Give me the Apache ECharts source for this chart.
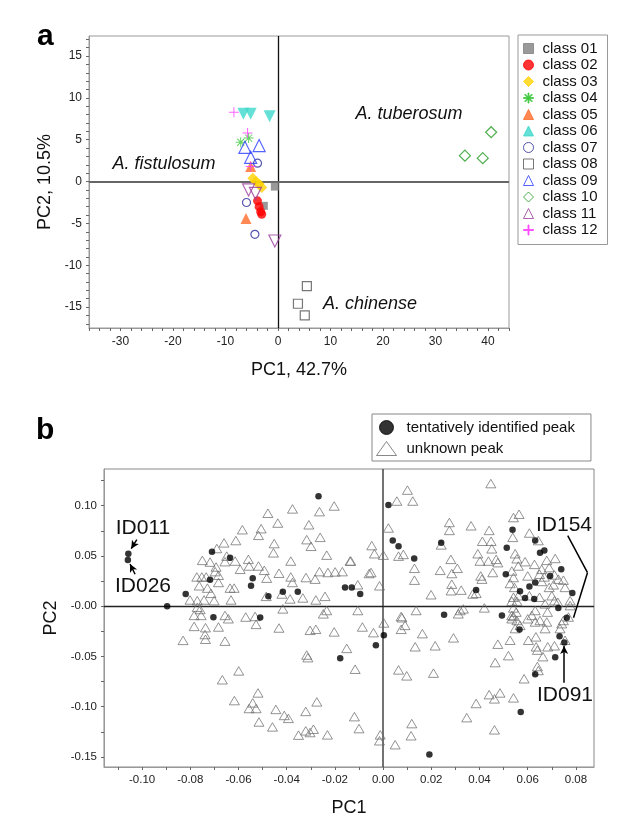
<!DOCTYPE html>
<html><head><meta charset="utf-8">
<script src="https://cdn.jsdelivr.net/npm/echarts@6/dist/echarts.min.js"></script>
<style>html,body{margin:0;padding:0;background:#fff}#c{width:620px;height:818px}</style>
</head><body><div id="c"></div>
<script>
// ---------- Panel a data (PC1, PC2) ----------
const classNames = ['class 01','class 02','class 03','class 04','class 05','class 06','class 07','class 08','class 09','class 10','class 11','class 12'];
const class01 = [[-0.6,-0.6],[-2.7,-2.9]];
const class02 = [[-3.9,-2.3],[-3.6,-3.0],[-3.3,-3.6],[-3.1,-3.9]];
const class03 = [[-4.8,0.4],[-4.2,0.0],[-3.6,-0.3],[-3.1,-0.7]];
const class04 = [[-7.1,4.7],[-5.6,5.2]];
const class05 = [[-5.2,1.8],[-6.1,-4.4]];
const class06 = [[-6.6,8.1],[-5.2,8.1],[-1.6,7.8]];
const class07 = [[-3.9,2.2],[-6.0,-2.5],[-4.4,-6.3]];
const class08 = [[5.5,-12.5],[3.8,-14.6],[5.1,-16.0]];
const class09 = [[-6.3,4.1],[-3.6,4.3],[-5.2,2.9]];
const class10 = [[40.6,5.9],[35.6,3.1],[39.0,2.8]];
const class11 = [[-5.6,-1.0],[-4.3,-1.4],[-0.6,-7.1]];
const class12 = [[-8.4,8.3],[-5.8,5.8],[-5.2,1.8]];
const aTicksX = [-36,-34,-32,-30,-28,-26,-24,-22,-20,-18,-16,-14,-12,-10,-8,-6,-4,-2,0,2,4,6,8,10,12,14,16,18,20,22,24,26,28,30,32,34,36,38,40,42,44];
const aLabelsX = [-30,-20,-10,0,10,20,30,40];
const aTicksY = [-17,-16,-15,-14,-13,-12,-11,-10,-9,-8,-7,-6,-5,-4,-3,-2,-1,0,1,2,3,4,5,6,7,8,9,10,11,12,13,14,15,16,17];
const aLabelsY = [-15,-10,-5,0,5,10,15];

// ---------- Panel b data (PC1, PC2 loadings) ----------
const identifiedPeaks = [
[-0.0268,0.1095],[-0.0710,0.0541],[-0.0635,0.0482],[-0.1057,0.0522],[-0.1059,0.0459],[-0.0718,0.0262],[-0.0541,0.0279],[-0.0548,0.0203],[-0.0819,0.0121],[-0.0476,0.0098],[-0.0416,0.0144],[-0.0354,0.0144],[-0.0158,0.0187],[-0.0130,0.0187],[-0.0095,0.0121],[-0.0896,0.0000],[-0.0704,-0.0110],[-0.0510,-0.0112],[-0.0178,-0.0519],
[0.0022,0.1007],[0.0040,0.0653],[0.0064,0.0597],[0.0129,0.0475],[0.0241,0.0630],[0.0537,0.0761],[0.0513,0.0581],[0.0631,0.0653],[0.0651,0.0531],[0.0669,0.0554],[0.0739,0.0367],[0.0693,0.0301],[0.0509,0.0318],[0.0631,0.0236],[0.0607,0.0197],[0.0568,0.0148],[0.0589,0.0082],[0.0627,0.0072],[0.0785,0.0131],[0.0386,0.0160],[0.0727,-0.0017],[0.0253,-0.0086],[0.0493,-0.0092],[0.0762,-0.0115],
[0.0003,-0.0289],[-0.0030,-0.0388],[0.0566,-0.0233],[0.0732,-0.0299],[0.0752,-0.0361],[0.0714,-0.0509],[0.0631,-0.0676],[0.0571,-0.1053],[0.0192,-0.1476]];
const unknownPeaks = [
[-0.0376,0.0968],[-0.0478,0.0925],[-0.0203,0.0997],[-0.0264,0.0941],[-0.0437,0.0827],[-0.0308,0.0810],[-0.0584,0.0761],[-0.0506,0.0771],[-0.0517,0.0705],[-0.0611,0.0653],[-0.0660,0.0630],[-0.0690,0.0574],[-0.0317,0.0662],[-0.0261,0.0685],[-0.0299,0.0596],[-0.0452,0.0623],[-0.0455,0.0531],[-0.0234,0.0508],[-0.0649,0.0498],[-0.0656,0.0443],[-0.0614,0.0449],[-0.0750,0.0456],[-0.0718,0.0439],[-0.0559,0.0466],[-0.0693,0.0390],[-0.0593,0.0367],[-0.0556,0.0400],[-0.0517,0.0400],[-0.0493,0.0357],[-0.0383,0.0449],[-0.0432,0.0328],[-0.0697,0.0344],[-0.0773,0.0291],[-0.0752,0.0291],[-0.0734,0.0291],[-0.0683,0.0308],[-0.0483,0.0279],[-0.0383,0.0291],[-0.0320,0.0285],[-0.0282,0.0269],[-0.0264,0.0344],[-0.0229,0.0335],[-0.0199,0.0341],[-0.0169,0.0344],[-0.0137,0.0449],[-0.0376,0.0236],[-0.0763,0.0203],[-0.0729,0.0180],[-0.0683,0.0236],[-0.0635,0.0180],[-0.0618,0.0180],[-0.0714,0.0128],[-0.0485,0.0098],[-0.0420,0.0121],[-0.0386,0.0072],[-0.0333,0.0082],[-0.0279,0.0062],[-0.0241,0.0098],[-0.0801,0.0062],[-0.0771,0.0055],[-0.0743,0.0062],[-0.0701,0.0055],[-0.0631,0.0062],[-0.0771,-0.0010],[-0.0759,-0.0033],[-0.0416,-0.0027],[-0.0234,-0.0043],[-0.0248,-0.0076],
[-0.0784,-0.0092],[-0.0755,-0.0092],[-0.0784,-0.0201],[-0.0737,-0.0214],[-0.0739,-0.0282],[-0.0737,-0.0329],[-0.0830,-0.0340],[-0.0683,-0.0207],[-0.0656,-0.0092],[-0.0642,-0.0125],[-0.0656,-0.0348],[-0.0570,-0.0108],[-0.0531,-0.0102],[-0.0527,-0.0181],[-0.0432,-0.0217],[-0.0303,-0.0240],[-0.0279,-0.0230],[-0.0203,-0.0256],[-0.0151,-0.0420],[-0.0317,-0.0486],[-0.0312,-0.0512],[-0.0599,-0.0644],[-0.0667,-0.0732],[-0.0519,-0.0863],[-0.0617,-0.0939],[-0.0541,-0.0962],[-0.0556,-0.1018],[-0.0527,-0.1018],[-0.0275,-0.0952],[-0.0445,-0.1027],[-0.0321,-0.1047],[-0.0410,-0.1087],[-0.0393,-0.1116],[-0.0515,-0.1152],[-0.0459,-0.1201],[-0.0321,-0.1240],[-0.0289,-0.1224],[-0.0303,-0.1257],[-0.0351,-0.1283],[-0.0231,-0.1280],
[0.0447,0.1220],[0.0101,0.1155],[0.0057,0.1046],[0.0123,0.1046],[0.0022,0.0778],[0.0541,0.0882],[0.0564,0.0915],[0.0275,0.0833],[0.0275,0.0754],[0.0365,0.0800],[0.0440,0.0754],[0.0538,0.0685],[0.0607,0.0728],[0.0644,0.0653],[0.0412,0.0646],[0.0448,0.0646],[0.0451,0.0571],[0.0393,0.0522],[0.0402,0.0449],[0.0437,0.0449],[0.0469,0.0466],[0.0476,0.0433],[0.0455,0.0335],[0.0405,0.0301],[0.0410,0.0269],[0.0548,0.0522],[0.0555,0.0472],[0.0589,0.0443],[0.0561,0.0400],[0.0628,0.0416],[0.0679,0.0456],[0.0714,0.0475],[0.0658,0.0367],[0.0689,0.0384],[0.0534,0.0350],[0.0541,0.0285],[0.0600,0.0301],[0.0649,0.0318],[0.0669,0.0291],[0.0711,0.0311],[0.0727,0.0269],[0.0527,0.0226],[0.0545,0.0187],[0.0658,0.0246],[0.0689,0.0187],[0.0707,0.0213],[0.0748,0.0259],[0.0755,0.0187],[0.0561,0.0104],[0.0541,0.0089],[0.0534,0.0050],[0.0555,0.0050],[0.0607,0.0104],[0.0649,0.0089],[0.0700,0.0104],[0.0711,0.0055],[0.0725,0.0039],[0.0672,0.0023],[0.0776,0.0055],[0.0281,0.0466],[0.0308,0.0377],[0.0285,0.0325],[0.0237,0.0357],[0.0285,0.0219],[0.0282,0.0154],[0.0324,0.0160],[0.0199,0.0114],[0.0372,0.0121],[0.0386,0.0128],[0.0130,0.0377],[0.0130,0.0259],[0.0064,0.0498],[0.0084,0.0515],[-0.0047,0.0603],[-0.0036,0.0522],[0.0001,0.0508],[-0.0134,0.0449],[-0.0058,0.0325],[-0.0050,0.0335],[-0.0105,0.0213],[-0.0015,0.0203],[-0.0105,-0.0043],[0.0075,-0.0102],[0.0137,-0.0043],[0.0320,-0.0043],[0.0333,-0.0027],[0.0420,-0.0017],[0.0541,-0.0017],[0.0552,-0.0059],[0.0631,-0.0043],[0.0682,-0.0059],[0.0776,0.0006],[0.0534,-0.0092],[0.0241,0.0610],
[-0.0086,-0.0207],[-0.0040,-0.0263],[0.0003,-0.0167],[0.0078,-0.0115],[0.0091,-0.0191],[0.0075,-0.0230],[0.0163,-0.0273],[0.0133,-0.0404],[0.0216,-0.0394],[0.0292,-0.0315],[0.0312,-0.0076],[-0.0116,-0.0627],[0.0064,-0.0634],[0.0098,-0.0693],[0.0209,-0.0666],[-0.0119,-0.1099],[-0.0100,-0.1218],[-0.0012,-0.1280],[-0.0015,-0.1339],[0.0050,-0.1378],[0.0119,-0.1168],[0.0116,-0.1289],[0.0347,-0.1109],[0.0386,-0.0968],[0.0440,-0.0880],[0.0462,-0.0922],[0.0485,-0.0863],[0.0541,-0.0912],[0.0462,-0.1230],[0.0465,-0.0561],[0.0476,-0.0378],[0.0520,-0.0492],[0.0527,-0.0339],[0.0585,-0.0722],[0.0640,-0.0600],[0.0644,-0.0640],[0.0548,-0.0223],[0.0568,-0.0191],[0.0603,-0.0339],[0.0634,-0.0305],[0.0635,-0.0404],[0.0640,-0.0437],[0.0663,-0.0502],[0.0683,-0.0404],[0.0711,-0.0394],[0.0672,-0.0223],[0.0679,-0.0157],[0.0651,-0.0142],[0.0631,-0.0157],[0.0600,-0.0125],[0.0617,-0.0092],[0.0534,-0.0125],[0.0541,-0.0102],[0.0555,-0.0142],[0.0734,-0.0223],[0.0741,-0.0174],[0.0748,-0.0142],[0.0755,-0.0339],[0.0769,-0.0108]];
const bTicksX = [-0.11,-0.10,-0.09,-0.08,-0.07,-0.06,-0.05,-0.04,-0.03,-0.02,-0.01,0,0.01,0.02,0.03,0.04,0.05,0.06,0.07,0.08];
const bLabelsX = [-0.10,-0.08,-0.06,-0.04,-0.02,0,0.02,0.04,0.06,0.08];
const bTicksY = [-0.15,-0.125,-0.10,-0.075,-0.05,-0.025,0,0.025,0.05,0.075,0.10,0.125];
const bLabelsY = [-0.15,-0.10,-0.05,0,0.05,0.10];
// annotation arrows / bracket in data coordinates
const arrowID011 = [[-0.1022,0.0662],[-0.1045,0.0572]];
const arrowID026 = [[-0.1029,0.0318],[-0.1050,0.0420]];
const arrowID091 = [[0.0751,-0.0762],[0.0751,-0.0395]];
const bracketID154 = [[0.0766,0.0702],[0.0848,0.0333],[0.0790,-0.0115]];

const FONT = 'Liberation Sans, Arial, sans-serif';
const PLUS = 'path://M9,0H11V9H20V11H11V20H9V11H0V9H9Z';
const STAR = 'path://M9,0H11V9H20V11H11V20H9V11H0V9H9Z M2.2,3.6L3.6,2.2L17.8,16.4L16.4,17.8Z M16.4,2.2L17.8,3.6L3.6,17.8L2.2,16.4Z';
const T = 'rgba(255,255,255,0)';

const styles = [
  {d:class01, sym:'rect', size:8, color:'#808080'},
  {d:class02, sym:'circle', size:9, color:'#ff0000'},
  {d:class03, sym:'diamond', size:11, color:'#ffd200'},
  {d:class04, sym:STAR, size:10, color:'#3cc83c'},
  {d:class05, sym:'triangle', size:11, color:'#ff6a28'},
  {d:class06, sym:'triangle', size:12, color:'#3ed8cc', rot:180},
  {d:class07, sym:'circle', size:8, color:'#2a2a9a', empty:true},
  {d:class08, sym:'rect', size:9, color:'#555555', empty:true},
  {d:class09, sym:'triangle', size:12, color:'#2a3cff', empty:true},
  {d:class10, sym:'diamond', size:11, color:'#229a22', empty:true},
  {d:class11, sym:'triangle', size:12, color:'#9a3c9a', empty:true, rot:180},
  {d:class12, sym:PLUS, size:10, color:'#ff3cff'}
];

const series = styles.map((s, i) => ({
  name: classNames[i], type: 'scatter', xAxisIndex: 0, yAxisIndex: 0, z: 3,
  data: s.d, symbol: s.sym, symbolSize: s.size, symbolRotate: s.rot || 0,
  itemStyle: s.empty ? {color: T, borderColor: s.color, borderWidth: 1.2}
                     : {color: s.color, borderColor: s.color, borderWidth: 0},
  emphasis: {disabled: true}
}));
series[0].markLine = {
  silent: true, z: 1, symbol: ['none','none'], label: {show: false}, animation: false,
  data: [
    {xAxis: 0, lineStyle: {color: '#111', width: 1.3, type: 'solid'}},
    {yAxis: 0, lineStyle: {color: '#666', width: 2, type: 'solid'}}
  ]
};
series.push({
  name: 'unknown peak', type: 'scatter', xAxisIndex: 1, yAxisIndex: 1, z: 2,
  data: unknownPeaks, symbol: 'triangle', symbolSize: [10, 8.5],
  itemStyle: {color: T, borderColor: '#6a6a6a', borderWidth: 0.9},
  emphasis: {disabled: true},
  markLine: {
    silent: true, z: 1, symbol: ['none','none'], label: {show: false}, animation: false,
    data: [
      {xAxis: 0, lineStyle: {color: '#444', width: 1.5, type: 'solid'}},
      {yAxis: 0, lineStyle: {color: '#222', width: 1.3, type: 'solid'}}
    ]
  }
});
const seg = (a, b, arrow) => [
  {coord: a, symbol: 'none'},
  {coord: b, symbol: arrow ? 'arrow' : 'none', symbolSize: arrow ? [6, 8] : 0}
];
series.push({
  name: 'tentatively identified peak', type: 'scatter', xAxisIndex: 1, yAxisIndex: 1, z: 4,
  data: identifiedPeaks, symbol: 'circle', symbolSize: 6.5,
  itemStyle: {color: '#000', borderColor: '#000', borderWidth: 0},
  emphasis: {disabled: true},
  markLine: {
    silent: true, z: 5, label: {show: false}, animation: false,
    lineStyle: {color: '#000', width: 1.5, type: 'solid'},
    data: [
      seg(arrowID011[0], arrowID011[1], true),
      seg(arrowID026[0], arrowID026[1], true),
      seg(arrowID091[0], arrowID091[1], true),
      seg(bracketID154[0], bracketID154[1], false),
      seg(bracketID154[1], bracketID154[2], false)
    ]
  }
});

const axisCommon = {
  axisLine: {show: true, onZero: false, lineStyle: {color: '#999', width: 1}},
  axisTick: {show: true, length: 3, lineStyle: {color: '#666'}},
  splitLine: {show: false},
  nameTextStyle: {fontFamily: FONT, fontSize: 18, color: '#111'}
};

const option = {
  animation: false,
  backgroundColor: '#fff',
  textStyle: {fontFamily: FONT},
  grid: [
    {left: 89, top: 36, width: 420, height: 292, show: true, borderColor: '#9a9a9a', borderWidth: 1, backgroundColor: 'transparent'},
    {left: 104, top: 469, width: 490, height: 301, show: true, borderColor: '#888', borderWidth: 1, backgroundColor: 'transparent'}
  ],
  xAxis: [
    Object.assign({}, axisCommon, {
      type: 'value', gridIndex: 0, min: -36, max: 44,
      name: 'PC1, 42.7%', nameLocation: 'middle', nameGap: 33,
      axisTick: {show: true, length: 3, customValues: aTicksX, lineStyle: {color: '#666'}},
      axisLabel: {customValues: aLabelsX, fontSize: 12, color: '#222', margin: 8, fontFamily: FONT}
    }),
    Object.assign({}, axisCommon, {
      type: 'value', gridIndex: 1, min: -0.1158, max: 0.0875,
      name: 'PC1', nameLocation: 'middle', nameGap: 32,
      axisTick: {show: true, length: 3, customValues: bTicksX, lineStyle: {color: '#666'}},
      axisLabel: {customValues: bLabelsX, fontSize: 11.5, color: '#222', margin: 7, fontFamily: FONT,
        formatter: v => v.toFixed(2)}
    })
  ],
  yAxis: [
    Object.assign({}, axisCommon, {
      type: 'value', gridIndex: 0, min: -17.5, max: 17.4,
      name: 'PC2, 10.5%', nameLocation: 'middle', nameGap: 31,
      axisTick: {show: true, length: 3, customValues: aTicksY, lineStyle: {color: '#666'}},
      axisLabel: {customValues: aLabelsY, fontSize: 12, color: '#222', margin: 7, fontFamily: FONT}
    }),
    Object.assign({}, axisCommon, {
      type: 'value', gridIndex: 1, min: -0.1600, max: 0.1365,
      name: 'PC2', nameLocation: 'middle', nameGap: 38,
      axisTick: {show: true, length: 3, customValues: bTicksY, lineStyle: {color: '#666'}},
      axisLabel: {customValues: bLabelsY, fontSize: 11.5, color: '#222', margin: 7, fontFamily: FONT,
        formatter: v => (Math.abs(v) < 1e-9 ? '-0.00' : v.toFixed(2))}
    })
  ],
  legend: [
    {
      data: classNames, orient: 'vertical', left: 518, top: 35,
      padding: [6, 10, 7, 5], itemWidth: 10, itemHeight: 10, itemGap: 1.5,
      borderColor: '#999', borderWidth: 1, backgroundColor: '#fff',
      selectedMode: false,
      itemStyle: {borderWidth: 1},
      textStyle: {fontFamily: FONT, fontSize: 15, color: '#111', lineHeight: 15, padding: [0, 0, 0, 4]}
    },
    {
      data: ['tentatively identified peak', 'unknown peak'], orient: 'vertical', left: 372, top: 414,
      padding: [6, 16, 5, 4], itemWidth: 20, itemHeight: 14, itemGap: 6,
      borderColor: '#888', borderWidth: 1, selectedMode: false,
      itemStyle: {borderWidth: 1},
      textStyle: {fontFamily: FONT, fontSize: 15, color: '#111', lineHeight: 15, padding: [0, 0, 0, 5]}
    }
  ],
  graphic: [
    {type: 'text', left: 37, top: 22, style: {text: 'a', font: 'bold 30px ' + FONT, fill: '#000'}},
    {type: 'text', left: 36, top: 416, style: {text: 'b', font: 'bold 30px ' + FONT, fill: '#000'}},
    {type: 'text', x: 164, y: 164, style: {text: 'A. fistulosum', font: 'italic 18px ' + FONT, fill: '#111', align: 'center', verticalAlign: 'middle'}},
    {type: 'text', x: 409, y: 114, style: {text: 'A. tuberosum', font: 'italic 18px ' + FONT, fill: '#111', align: 'center', verticalAlign: 'middle'}},
    {type: 'text', x: 370, y: 304, style: {text: 'A. chinense', font: 'italic 18px ' + FONT, fill: '#111', align: 'center', verticalAlign: 'middle'}},
    {type: 'text', x: 143, y: 528, style: {text: 'ID011', font: '21px ' + FONT, fill: '#111', align: 'center', verticalAlign: 'middle'}},
    {type: 'text', x: 143, y: 586, style: {text: 'ID026', font: '21px ' + FONT, fill: '#111', align: 'center', verticalAlign: 'middle'}},
    {type: 'text', x: 564, y: 525, style: {text: 'ID154', font: '21px ' + FONT, fill: '#111', align: 'center', verticalAlign: 'middle'}},
    {type: 'text', x: 565, y: 695, style: {text: 'ID091', font: '21px ' + FONT, fill: '#111', align: 'center', verticalAlign: 'middle'}}
  ],
  series: series
};

const chart = echarts.init(document.getElementById('c'), null, {renderer: 'canvas'});
chart.setOption(option);
</script>
</body></html>
